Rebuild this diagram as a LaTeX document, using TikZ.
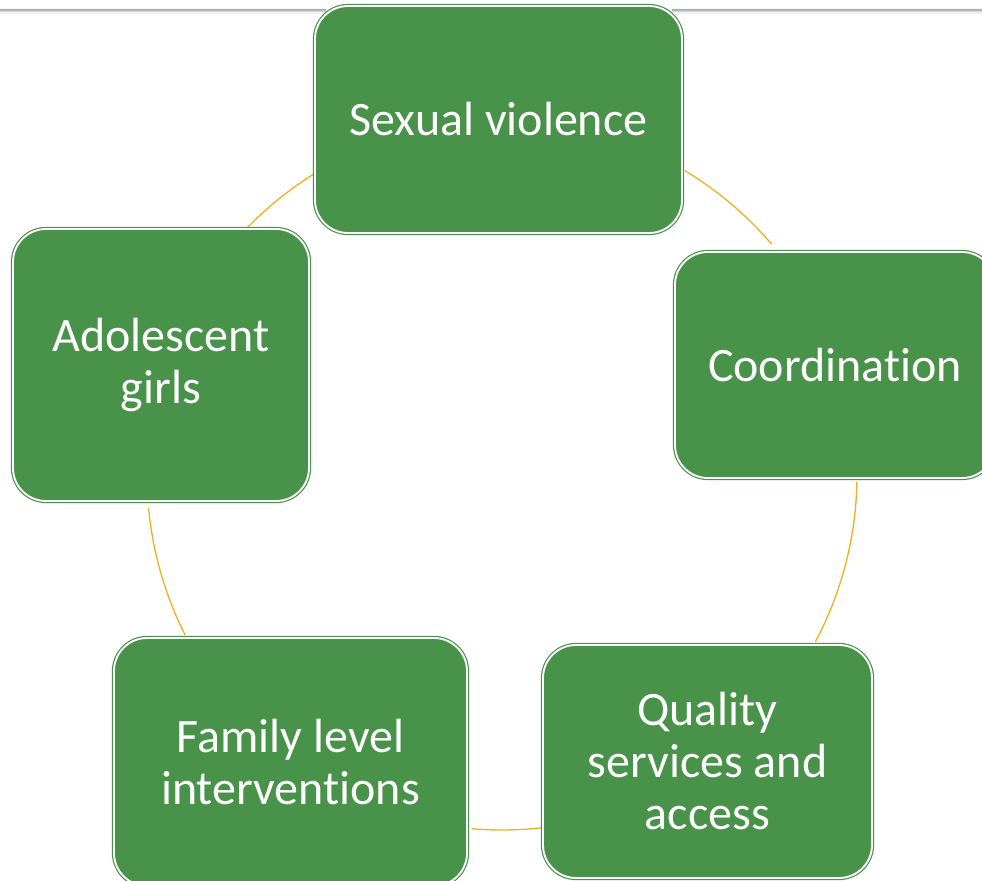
\documentclass[tikz,border=0pt]{standalone}
\usepackage{fontspec}
\newfontfamily\cyclefont[Ligatures={NoCommon}]{Carlito}
\definecolor{boxgreen}{RGB}{73,146,73}
\definecolor{ringgold}{RGB}{237,178,34}
\tikzset{
  stage/.style={draw=boxgreen, double=white, double distance=1.4pt, line width=0.9pt,
    fill=boxgreen, rounded corners=24.75pt, inner sep=0pt, align=center,
    text=white, font=\cyclefont\fontsize{36}{39}\selectfont},
  ringarc/.style={draw=ringgold, line width=1pt},
}

\begin{document}
\begin{tikzpicture}[x=0.75pt,y=0.75pt,yscale=-1]
\useasboundingbox (0,0) rectangle (982,881);
\clip (0,0) rectangle (982,881);

%Shape: Top rule with shadow
\fill[gray!62] (0,9) rectangle (326,11) (672,9) rectangle (982,11);
\fill[gray!32] (0,11) rectangle (326,12.5) (672,11) rectangle (982,12.5);
\fill[gray!12] (0,12.5) rectangle (326,14) (672,12.5) rectangle (982,14);

%Centre of the cycle
\coordinate (hub) at (502,475);

%Arcs of the cycle
\draw[ringarc] (hub) ++(-121.7:355) arc[start angle=-121.7, end angle=-135.9, radius=355];
\draw[ringarc] (hub) ++(-59:355) arc[start angle=-59, end angle=-40.6, radius=355];
\draw[ringarc] (hub) ++(1.1:355) arc[start angle=1.1, end angle=28, radius=355];
\draw[ringarc] (hub) ++(83.7:355) arc[start angle=83.7, end angle=94.9, radius=355];
\draw[ringarc] (hub) ++(153.2:355) arc[start angle=153.2, end angle=174.7, radius=355];

%Rounded Rect: stages
\node (sexv) at (498.5,119.5) [stage, minimum width=275.25pt, minimum height=170.25pt] {Sexual violence};
\node (coord) at (835,365) [stage, minimum width=240pt, minimum height=169.5pt] {Coordination};
\node (qual) at (707.5,761.5) [stage, minimum width=246.75pt, minimum height=174.75pt] {Quality\\services and\\access};
\node (family) at (290.5,762) [stage, minimum width=264.75pt, minimum height=186pt] {Family level\\interventions};
\node (adol) at (161,365) [stage, minimum width=222pt, minimum height=204pt] {Adolescent\\girls};

\end{tikzpicture}
\end{document}
